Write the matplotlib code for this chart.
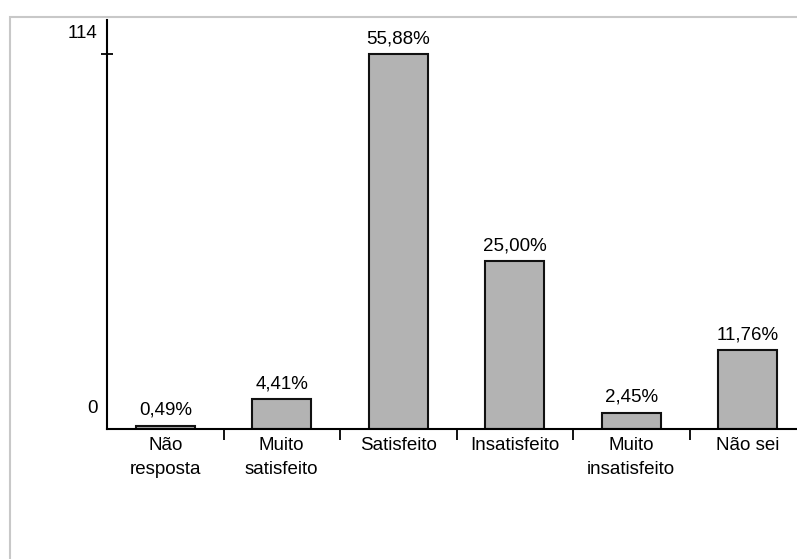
import matplotlib.pyplot as plt
from matplotlib.patches import Rectangle

plt.rcParams['font.family'] = ['Liberation Sans', 'DejaVu Sans']

categories = ["Não\nresposta", "Muito\nsatisfeito", "Satisfeito", "Insatisfeito",
              "Muito\ninsatisfeito", "Não sei"]
counts = [1, 9, 114, 51, 5, 24]
pct_labels = ["0,49%", "4,41%", "55,88%", "25,00%", "2,45%", "11,76%"]
y_ticks = [0, 114]

fig = plt.figure(figsize=(7.97, 5.59), dpi=100)

# light outer frame of the scanned chart
frame = Rectangle((10 / 797, -0.02), 1.05, 1 - 17 / 559 + 0.02,
                  transform=fig.transFigure, fill=False,
                  edgecolor="#c8c8c8", lw=1.5, clip_on=False)
fig.patches.append(frame)

ax = fig.add_axes([107 / 797, 130 / 559, 699 / 797, 409 / 559])

x = list(range(len(categories)))
bars = ax.bar(x, counts, width=0.51, color="#b3b3b3", edgecolor="#111111", linewidth=1.5)
ax.bar_label(bars, labels=pct_labels, padding=5, fontsize=13.5)

ax.set_xlim(-0.5, len(categories) - 0.5)
ax.set_ylim(0, 124.5)

for s in ["top", "right"]:
    ax.spines[s].set_visible(False)
ax.spines["left"].set_linewidth(1.5)
ax.spines["bottom"].set_linewidth(1.5)

ax.set_xticks(x)
ax.set_xticklabels(categories, fontsize=13.5, linespacing=1.5)
ax.tick_params(axis="x", which="major", length=0, pad=6)
ax.set_xticks([i + 0.5 for i in x[:-1]], minor=True)
ax.tick_params(axis="x", which="minor", length=8, width=1.3, direction="out")

# only the top value carries a tick mark
ax.set_yticks(y_ticks[1:])
ax.set_yticklabels([])
ax.tick_params(axis="y", length=8, width=1.3, direction="inout")
for v in y_ticks:
    ax.annotate(str(v), xy=(0, v), xycoords=("axes fraction", "data"),
                xytext=(-7, 15), textcoords="offset points",
                ha="right", va="center", fontsize=13.5)

fig.savefig("out.png", dpi=100)
